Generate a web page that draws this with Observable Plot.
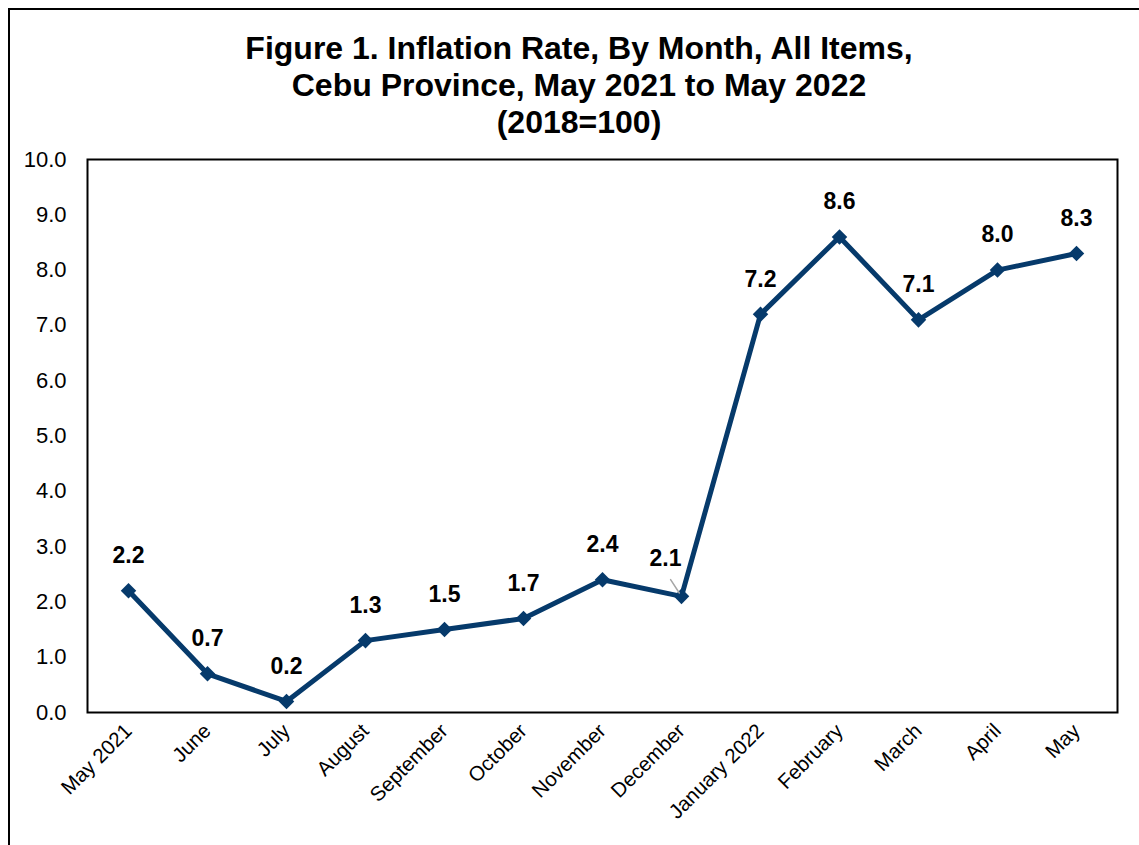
<!DOCTYPE html>
<html>
<head>
<meta charset="utf-8">
<script src="https://cdn.jsdelivr.net/npm/d3@7"></script>
<script src="https://cdn.jsdelivr.net/npm/@observablehq/plot@0.6"></script>
<style>
  html, body { margin: 0; padding: 0; background: #fff; overflow: hidden; }
  body { width: 1139px; height: 845px; position: relative; font-family: "Liberation Sans", Arial, sans-serif; }
  #border { position: absolute; left: 8px; top: 8px; width: 1200px; height: 900px; border: 2px solid #000; box-sizing: border-box; z-index: 2; pointer-events: none; }
  #title { position: absolute; left: 0; top: 30px; width: 1158px; text-align: center; font-weight: bold; font-size: 32px; line-height: 37px; color: #000; }
  #chart { position: absolute; left: 0; top: 139px; }
</style>
</head>
<body>
<div id="border"></div>
<div id="title">Figure 1. Inflation Rate, By Month, All Items,<br>Cebu Province, May 2021 to May 2022<br>(2018=100)</div>
<div id="chart"></div>
<script>
const months = ["May 2021", "June", "July", "August", "September", "October", "November", "December", "January 2022", "February", "March", "April", "May"];
const rates = [2.2, 0.7, 0.2, 1.3, 1.5, 1.7, 2.4, 2.1, 7.2, 8.6, 7.1, 8.0, 8.3];
const yTicks = [0, 1, 2, 3, 4, 5, 6, 7, 8, 9, 10];

const data = months.map((m, i) => ({month: m, rate: rates[i]}));
const offsetLabel = "December";
const lineColor = "#063a6b";

const chart = Plot.plot({
  width: 1139,
  height: 703,
  marginLeft: 87,
  marginRight: 22,
  marginTop: 20,
  marginBottom: 130,
  style: {fontFamily: "'Liberation Sans', Arial, sans-serif", fontSize: "22px", background: "transparent", color: "#000", overflow: "visible"},
  x: {type: "point", domain: months, padding: 0.5, label: null},
  y: {domain: [0, 10], label: null},
  marks: [
    Plot.frame({stroke: "#000", strokeWidth: 2}),
    Plot.axisY({ticks: yTicks, tickFormat: d => d.toFixed(1), tickSize: 0, tickPadding: 21, label: null}),
    Plot.axisX({tickSize: 0, tickPadding: 15, tickRotate: -45, label: null}),
    Plot.line(data, {x: "month", y: "rate", stroke: lineColor, strokeWidth: 5, strokeLinejoin: "miter"}),
    Plot.dot(data, {x: "month", y: "rate", symbol: "diamond2", r: 7, fill: lineColor, stroke: null}),
    Plot.vector(data.filter(d => d.month === offsetLabel), {x: "month", y: "rate", length: 20, rotate: -33, anchor: "start", stroke: "#a6a6a6", strokeWidth: 1.5, shape: {draw(ctx, l) { ctx.moveTo(0, -4); ctx.lineTo(0, -l); }}}),
    Plot.text(data.filter(d => d.month !== offsetLabel), {x: "month", y: "rate", text: d => d.rate.toFixed(1), dy: -35, fontSize: 23, fontWeight: "bold", fill: "#000"}),
    Plot.text(data.filter(d => d.month === offsetLabel), {x: "month", y: "rate", text: d => d.rate.toFixed(1), dx: -16, dy: -38, fontSize: 23, fontWeight: "bold", fill: "#000"})
  ]
});
d3.select(chart).selectAll("text")
  .filter(function() { return months.includes(this.textContent); })
  .style("font-size", "20.5px");
document.getElementById("chart").appendChild(chart);
</script>
</body>
</html>
